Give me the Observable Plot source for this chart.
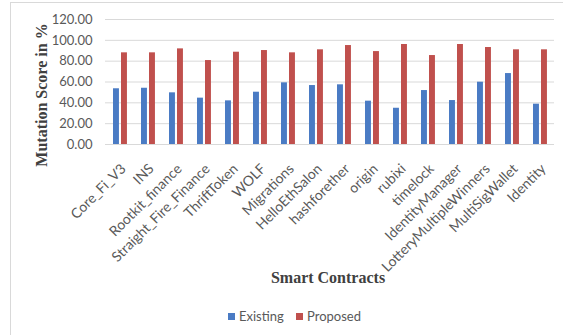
<!DOCTYPE html>
<html>
<head>
<meta charset="utf-8">
<script src="https://cdn.jsdelivr.net/npm/d3@7"></script>
<script src="https://cdn.jsdelivr.net/npm/@observablehq/plot@0.6"></script>
<style>
  html, body { margin: 0; padding: 0; background: #fff; }
  #wrap { position: relative; width: 563px; height: 335px; overflow: hidden; }
  #frame { position: absolute; left: 10px; top: 2px; width: 700px; height: 500px; border: 1px solid #d9d9d9; box-sizing: border-box; }
  #chart { position: absolute; left: 0; top: 0; }
  #legend { position: absolute; left: 0; top: 308px; width: 563px; font-family: "Lato", "Open Sans", sans-serif; font-size: 13px; color: #595959; }
  .item { position: absolute; top: 0; white-space: nowrap; }
  .sw { position: absolute; width: 7px; height: 7px; top: 5px; left: 0; }
  .lbl { position: absolute; left: 11px; top: 0; }
</style>
</head>
<body>
<div id="wrap">
  <div id="frame"></div>
  <div id="chart"></div>
  <div id="legend"></div>
</div>
<script>
const contracts = ["Core_Fi_V3", "INS", "Rootkit_finance", "Straight_Fire_Finance", "ThriftToken", "WOLF", "Migrations", "HelloEthSalon", "hashforether", "origin", "rubixi", "timelock", "IdentityManager", "LotteryMultipleWinners", "MultiSigWallet", "Identity"];
const existing = [53.5, 54.0, 49.6, 44.5, 41.9, 50.2, 59.2, 56.6, 57.3, 41.6, 34.8, 51.8, 42.2, 59.8, 68.1, 38.7];
const proposed = [88.0, 88.0, 91.8, 80.6, 88.6, 90.2, 88.0, 90.9, 95.0, 89.2, 96.0, 85.4, 96.0, 93.1, 90.9, 90.9];
const seriesNames = ["Existing", "Proposed"];
const seriesColors = ["#4a7bc4", "#c0504d"];
const yTicks = [0, 20, 40, 60, 80, 100, 120];

const rowsE = contracts.map((c, i) => ({contract: c, value: existing[i]}));
const rowsP = contracts.map((c, i) => ({contract: c, value: proposed[i]}));

const W = 563, H = 300, ML = 105, MR = 9, MT = 19, MB = 156;
const band = (W - ML - MR) / contracts.length;

const chart = Plot.plot({
  width: W, height: H,
  marginLeft: ML, marginRight: MR, marginTop: MT, marginBottom: MB,
  style: {fontFamily: "Lato, 'Open Sans', sans-serif", background: "transparent"},
  x: {domain: contracts, padding: 0, label: null},
  y: {domain: [0, 120], label: null},
  marks: [
    Plot.gridY(yTicks, {stroke: "#d9d9d9", strokeOpacity: 1, strokeWidth: 1}),
    Plot.barY(rowsE, {x: "contract", y: "value", fill: seriesColors[0], insetLeft: 7, insetRight: band - 13}),
    Plot.barY(rowsP, {x: "contract", y: "value", fill: seriesColors[1], insetLeft: 15, insetRight: band - 21}),
    Plot.axisY({ticks: yTicks, tickFormat: d3.format(".2f"), tickSize: 0, tickPadding: 13, fontSize: 13, fill: "#595959", label: null}),
    Plot.axisX({tickRotate: -45, tickSize: 0, tickPadding: 18, dx: 3, dy: 4, fontSize: 14, fill: "#595959", label: null}),
    Plot.text(["Mutation Score in %"], {frameAnchor: "left", textAnchor: "middle", rotate: -90, dx: -64, dy: 13, fontFamily: "'Liberation Serif', 'Times New Roman', serif", fontWeight: "bold", fontSize: 16, fill: "#404040"}),
    Plot.text(["Smart Contracts"], {frameAnchor: "bottom", dy: 138, dx: -2, fontFamily: "'Liberation Serif', 'Times New Roman', serif", fontWeight: "bold", fontSize: 16, fill: "#404040"})
  ]
});
document.getElementById("chart").appendChild(chart);

const legend = document.getElementById("legend");
const lefts = [228, 296];
seriesNames.forEach((name, i) => {
  const it = document.createElement("div");
  it.className = "item";
  it.style.left = lefts[i] + "px";
  it.innerHTML = `<span class="sw" style="background:${seriesColors[i]}"></span><span class="lbl">${name}</span>`;
  legend.appendChild(it);
});
</script>
</body>
</html>
